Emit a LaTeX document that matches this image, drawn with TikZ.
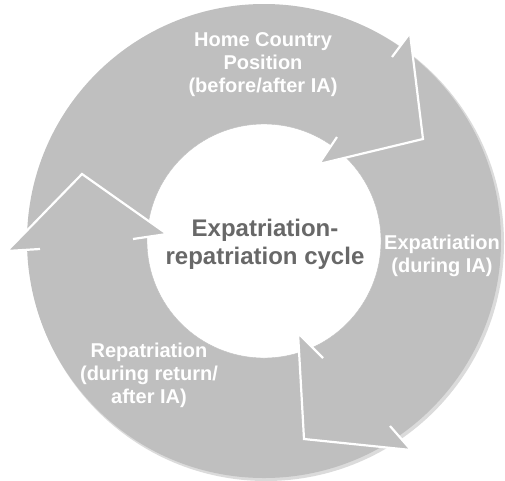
\documentclass[tikz,border=0pt]{standalone}
\usepackage{fontspec}
\setmainfont{Liberation Sans}
\usetikzlibrary{positioning}
\definecolor{ringgray}{RGB}{191,191,191}
\definecolor{hubgray}{RGB}{104,104,104}
\tikzstyle{band}=[fill=ringgray]
\tikzstyle{rim}=[draw=white,line width=2.2pt,line join=miter]
\tikzstyle{phase}=[text=white,font=\bfseries\fontsize{20}{23}\selectfont,align=center]
\tikzstyle{hubtext}=[text=hubgray,font=\bfseries\fontsize{24}{28}\selectfont,align=center]

\begin{document}
\begin{tikzpicture}[x=1pt,y=-1pt]
  \useasboundingbox (0,0) rectangle (505,480);
  % ring with its soft shadow, and the hub
  \fill[black!14] (266,243) circle[radius=238pt];
  \node[circle,band,minimum size=474pt,inner sep=0pt] (ring) at (264,241) {};
  \node[circle,fill=white,draw=black!25,minimum size=234pt,inner sep=0pt] (hub) at (264,241) {};

  \foreach \pos / \name in {{(392,57)/hs1}, {(410,33)/ho1}, {(423,139)/ht1}, {(319,164)/hi1}, {(337,137)/he1},
                            {(390,426)/hs2}, {(411,450)/ho2}, {(304,439)/ht2}, {(298,333)/hi2}, {(323,358)/he2},
                            {(40,249)/hs3}, {(7,251)/ho3}, {(82,174)/ht3}, {(167,234)/hi3}, {(133,239)/he3}}
    \node[coordinate] (\name) at \pos {};

  % arrow heads
  \foreach \n in {1,2,3}{
    \fill[band] (ho\n) -- (ht\n) -- (hi\n) -- cycle;
    \draw[rim] (hs\n) -- (ho\n) -- (ht\n) -- (hi\n) -- (he\n);
  }

  \node[phase] (home) at (263,65) {Home Country\\Position\\(before/after IA)};
  \node[phase] (expat) at (442,256) {Expatriation\\(during IA)};
  \node[phase] (repat) at (149,375) {Repatriation\\(during return/\\after IA)};
  \node[hubtext] (cycle) at (265,244) {Expatriation-\\repatriation cycle};
\end{tikzpicture}
\end{document}
